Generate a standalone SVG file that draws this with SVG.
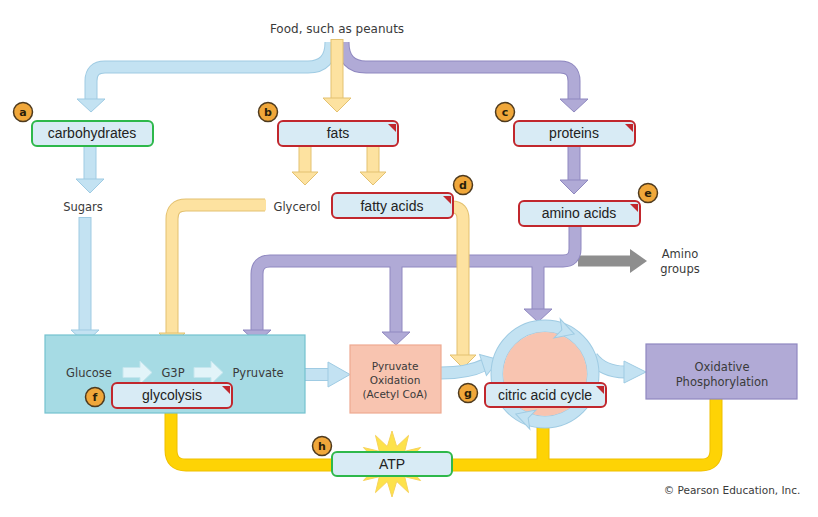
<svg xmlns="http://www.w3.org/2000/svg" width="818" height="517" viewBox="0 0 818 517">
<defs>
<style>
.t{font-family:"DejaVu Sans",Verdana,sans-serif;fill:#3a3a3a;text-anchor:middle}
.lb{font-family:"Liberation Sans",Arial,sans-serif;font-size:14px;fill:#222;text-anchor:middle}
.box{fill:#d8ebf5;stroke-width:2}
.red{stroke:#c1272d}
.grn{stroke:#2eb84b}
.tri{fill:#c1272d}
.bdg{fill:#f0a73a;stroke:#4e3a1e;stroke-width:1.5}
.bt{font-family:"DejaVu Sans",Verdana,sans-serif;font-size:11px;font-weight:bold;fill:#2a1e0a;text-anchor:middle}
.bl-o,.bl-i,.ye-o,.ye-i,.pu-o,.pu-i,.go-o,.go-i,.gr{fill:none}
.bl-o{stroke:#9fcbe3;stroke-width:13}
.bl-i{stroke:#c3e2f2;stroke-width:11}
.bl-h{fill:#c3e2f2;stroke:#9fcbe3;stroke-width:1}
.ye-o{stroke:#e3c170;stroke-width:13}
.ye-i{stroke:#fde2a0;stroke-width:11}
.ye-h{fill:#fde2a0;stroke:#e3c170;stroke-width:1}
.pu-o{stroke:#8f88c0;stroke-width:13}
.pu-i{stroke:#b0aad6;stroke-width:11}
.pu-h{fill:#b0aad6;stroke:#8f88c0;stroke-width:1}
.go-o{stroke:#efbf00;stroke-width:13}
.go-i{stroke:#fed305;stroke-width:11}
.gr{stroke:#8e8e8e;stroke-width:11}
.sm{fill:#e2f4f9;stroke:#c5e6ee;stroke-width:1}
</style>
</defs>
<rect width="818" height="517" fill="#ffffff"/>

<g id="connectors">
  <!-- food to carbohydrates / proteins -->
  <path class="bl-o" d="M331 42 Q331 67 308 67 L105 67 Q91 67 91 81 L91 100"/>
  <path class="bl-i" d="M331 42 Q331 67 308 67 L105 67 Q91 67 91 81 L91 100"/>
  <polygon class="bl-h" points="77,99 105,99 91,112"/>
  <path class="pu-o" d="M343 42 Q343 67 366 67 L560 67 Q574 67 574 81 L574 100"/>
  <path class="pu-i" d="M343 42 Q343 67 366 67 L560 67 Q574 67 574 81 L574 100"/>
  <polygon class="pu-h" points="560,99 588,99 574,112"/>
  <path class="ye-o" d="M337 39 L337 99"/>
  <path class="ye-i" d="M337 40 L337 100"/>
  <polygon class="ye-h" points="323,98 351,98 337,112"/>

  <!-- carbohydrates to sugars to glycolysis -->
  <path class="bl-o" d="M90 146 L90 180"/>
  <path class="bl-i" d="M90 146 L90 181"/>
  <polygon class="bl-h" points="76,179 104,179 90,193"/>
  <path class="bl-o" d="M85 217 L85 331"/>
  <path class="bl-i" d="M85 218 L85 332"/>
  <polygon class="bl-h" points="71,330 99,330 85,343"/>

  <!-- fats to glycerol / fatty acids -->
  <path class="ye-o" d="M305 146 L305 173"/>
  <path class="ye-i" d="M305 146 L305 174"/>
  <polygon class="ye-h" points="292,172 318,172 305,185"/>
  <path class="ye-o" d="M373 146 L373 173"/>
  <path class="ye-i" d="M373 146 L373 174"/>
  <polygon class="ye-h" points="360,172 386,172 373,185"/>

  <!-- glycerol to glycolysis -->
  <path class="ye-o" d="M265 205 L186 205 Q172 205 172 219 L172 334"/>
  <path class="ye-i" d="M266 205 L186 205 Q172 205 172 219 L172 335"/>
  <polygon class="ye-h" points="159,333 185,333 172,346"/>

  <!-- proteins to amino acids -->
  <path class="pu-o" d="M574 146 L574 181"/>
  <path class="pu-i" d="M574 146 L574 182"/>
  <polygon class="pu-h" points="560,180 588,180 574,194"/>

  <!-- amino acids network -->
  <path class="gr" d="M578 261 L632 261"/>
  <polygon fill="#8e8e8e" points="630,249 647,261 630,273"/>
  <path class="pu-o" d="M575 226 L575 249 Q575 261 563 261 L270 261 Q257 261 257 274 L257 331"/>
  <path class="pu-o" d="M396 261 L396 333"/>
  <path class="pu-o" d="M538 261 L538 310"/>
  <path class="pu-i" d="M575 226 L575 249 Q575 261 563 261 L270 261 Q257 261 257 274 L257 332"/>
  <path class="pu-i" d="M396 262 L396 334"/>
  <path class="pu-i" d="M538 262 L538 311"/>
  <polygon class="pu-h" points="243,330 271,330 257,343"/>
  <polygon class="pu-h" points="382,332 410,332 396,345"/>
  <polygon class="pu-h" points="524,309 552,309 538,322"/>

  <!-- fatty acids to citric acid cycle -->
  <path class="ye-o" d="M452 207 Q463 207 463 219 L463 356"/>
  <path class="ye-i" d="M452 207 Q463 207 463 219 L463 357"/>
  <polygon class="ye-h" points="450,355 476,355 463,368"/>

  <!-- glycolysis to pyruvate oxidation -->
  <path class="bl-o" d="M305 374.5 L329 374.5"/>
  <path class="bl-i" d="M305 374.5 L330 374.5"/>
  <polygon class="bl-h" points="328,362 350,374.5 328,387"/>

  <!-- pyruvate oxidation to citric acid cycle -->
  <path class="bl-o" d="M441 373 Q468 373 484 365"/>
  <path class="bl-i" d="M441 373 Q468 373 485 365"/>
  <polygon class="bl-h" transform="translate(483,365) rotate(-18)" points="0,-11 17,0 0,11"/>

  <!-- citric acid cycle to oxidative phosphorylation -->
  <path class="bl-o" d="M592 357 Q603 372 625 372"/>
  <path class="bl-i" d="M592 357 Q603 372 626 372"/>
  <polygon class="bl-h" points="624,361 646,372 624,383"/>

  <!-- ATP lines -->
  <path class="go-o" d="M171 413 L171 450 Q171 465 186 465 L334 465"/>
  <path class="go-o" d="M450 465 L701 465 Q716 465 716 450 L716 399"/>
  <path class="go-o" d="M543 421 L543 465"/>
  <path class="go-i" d="M171 413 L171 450 Q171 465 186 465 L334 465"/>
  <path class="go-i" d="M450 465 L701 465 Q716 465 716 450 L716 399"/>
  <path class="go-i" d="M543 420 L543 465"/>
</g>

<g id="food">
  <text class="t" x="337" y="33" font-size="12">Food, such as peanuts</text>
</g>

<g id="carbohydrates">
  <circle class="bdg" cx="23" cy="112" r="9.5"/>
  <text class="bt" x="23" y="116">a</text>
  <rect class="box grn" x="32" y="121" width="121" height="25" rx="5"/>
  <text class="lb" x="92" y="138">carbohydrates</text>
</g>

<g id="fats">
  <circle class="bdg" cx="268" cy="112" r="9.5"/>
  <text class="bt" x="268" y="116">b</text>
  <rect class="box red" x="278" y="121" width="120" height="25" rx="5"/>
  <polygon class="tri" points="388,124 396,124 396,132"/>
  <text class="lb" x="338" y="138">fats</text>
</g>

<g id="proteins">
  <circle class="bdg" cx="505" cy="112" r="9.5"/>
  <text class="bt" x="505" y="116">c</text>
  <rect class="box red" x="514" y="121" width="121" height="25" rx="5"/>
  <polygon class="tri" points="625,124 633,124 633,132"/>
  <text class="lb" x="574" y="138">proteins</text>
</g>

<g id="sugars">
  <text class="t" x="83" y="211" font-size="11.5">Sugars</text>
</g>

<g id="glycerol">
  <text class="t" x="297" y="211" font-size="11.5">Glycerol</text>
</g>

<g id="fatty-acids">
  <circle class="bdg" cx="463" cy="185" r="9.5"/>
  <text class="bt" x="463" y="189">d</text>
  <rect class="box red" x="332" y="193" width="121" height="25" rx="5"/>
  <polygon class="tri" points="443,196 451,196 451,204"/>
  <text class="lb" x="392" y="211">fatty acids</text>
</g>

<g id="amino-acids">
  <circle class="bdg" cx="648" cy="193" r="9.5"/>
  <text class="bt" x="648" y="197">e</text>
  <rect class="box red" x="519" y="201" width="121" height="25" rx="5"/>
  <polygon class="tri" points="630,204 638,204 638,212"/>
  <text class="lb" x="579" y="218">amino acids</text>
</g>

<g id="amino-groups">
  <text class="t" x="680" y="258" font-size="11.5">Amino</text>
  <text class="t" x="680" y="273" font-size="11.5">groups</text>
</g>

<g id="glycolysis">
  <rect x="45" y="335" width="260" height="78" fill="#a6dbe4" stroke="#74c2cf" stroke-width="1.2"/>
  <text class="t" x="89" y="377" font-size="11.5">Glucose</text>
  <polygon class="sm" points="123,367.5 140,367.5 140,361 152,372.5 140,384 140,377.5 123,377.5"/>
  <text class="t" x="173" y="377" font-size="11.5">G3P</text>
  <polygon class="sm" points="194,367.5 211,367.5 211,361 223,372.5 211,384 211,377.5 194,377.5"/>
  <text class="t" x="258" y="377" font-size="11.5">Pyruvate</text>
  <circle class="bdg" cx="95" cy="397" r="9.5"/>
  <text class="bt" x="95" y="401">f</text>
  <rect class="box red" x="112" y="383" width="120" height="25" rx="5"/>
  <polygon class="tri" points="222,386 230,386 230,394"/>
  <text class="lb" x="172" y="400">glycolysis</text>
</g>

<g id="pyruvate-oxidation">
  <rect x="350" y="345" width="91" height="68" fill="#f8c4b0" stroke="#eeaa92" stroke-width="1.2"/>
  <text class="t" x="395" y="370" font-size="10.5">Pyruvate</text>
  <text class="t" x="395" y="384" font-size="10.5">Oxidation</text>
  <text class="t" x="395" y="398" font-size="10.5">(Acetyl CoA)</text>
</g>

<g id="citric-acid-cycle">
  <circle cx="545" cy="374" r="48" fill="none" stroke="#9fcbe3" stroke-width="13"/>
  <circle cx="545" cy="374" r="48" fill="none" stroke="#c3e2f2" stroke-width="11"/>
  <circle cx="545" cy="374" r="42" fill="#f8c4b0"/>
  <polygon class="bl-h" transform="translate(559,329) rotate(18)" points="-2,-10 16,0 -2,10 3,0"/>
  <polygon class="bl-h" transform="translate(531,419) rotate(198)" points="-2,-10 16,0 -2,10 3,0"/>
  <circle class="bdg" cx="468" cy="393" r="9.5"/>
  <text class="bt" x="468" y="397">g</text>
  <rect class="box red" x="485" y="383" width="121" height="24" rx="5"/>
  <polygon class="tri" points="596,386 604,386 604,394"/>
  <text class="lb" x="545" y="400">citric acid cycle</text>
</g>

<g id="oxidative-phosphorylation">
  <rect x="646" y="344" width="151" height="55" fill="#b1aad6" stroke="#8f88c0" stroke-width="1.2"/>
  <text class="t" x="722" y="371" font-size="11.5">Oxidative</text>
  <text class="t" x="722" y="386" font-size="11.5">Phosphorylation</text>
</g>

<g id="atp">
  <polygon fill="#fde24a" stroke="#f7d35c" stroke-width="1" points="392,431 396.7,446.6 408.5,435.4 404.7,451.3 420.6,447.5 409.4,459.3 425,464 409.4,468.7 420.6,480.5 404.7,476.7 408.5,492.6 396.7,481.4 392,497 387.3,481.4 375.5,492.6 379.3,476.7 363.4,480.5 374.6,468.7 359,464 374.6,459.3 363.4,447.5 379.3,451.3 375.5,435.4 387.3,446.6"/>
  <circle class="bdg" cx="322" cy="446" r="9.5"/>
  <text class="bt" x="322" y="450">h</text>
  <rect class="box grn" x="332" y="452" width="120" height="24" rx="5"/>
  <text class="lb" x="392" y="469">ATP</text>
</g>

<g id="credit">
  <text class="t" x="732" y="494" font-size="10.5">© Pearson Education, Inc.</text>
</g>
</svg>
